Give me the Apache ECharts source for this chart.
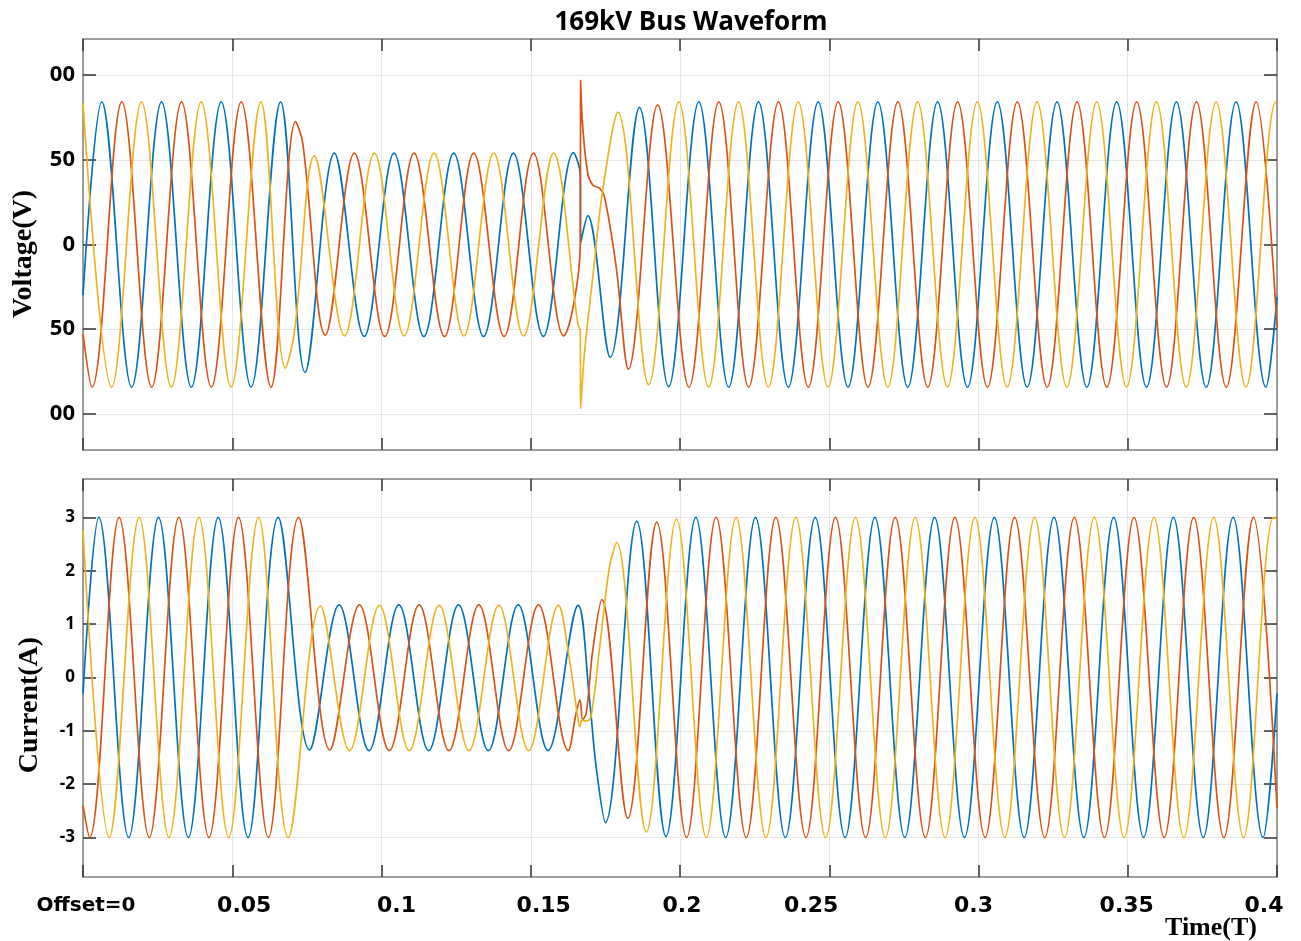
<!DOCTYPE html>
<html>
<head>
<meta charset="utf-8">
<script src="https://cdn.jsdelivr.net/npm/echarts@6/dist/echarts.min.js"></script>
<style>
html,body{margin:0;padding:0;background:#ffffff;}
#chart{width:1301px;height:941px;}
</style>
</head>
<body>
<div id="chart"></div>
<script>
// ---------- data ----------
const titleText = '169kV Bus Waveform';
const timeTicks = [0, 0.05, 0.1, 0.15, 0.2, 0.25, 0.3, 0.35, 0.4];
const timeTickLabels = ['Offset=0', '0.05', '0.1', '0.15', '0.2', '0.25', '0.3', '0.35', '0.4'];
const voltTicks = [-100, -50, 0, 50, 100];
const voltTickLabels = ['00', '50', '0', '50', '00'];
const currTicks = [-3, -2, -1, 0, 1, 2, 3];
const currTickLabels = ['-3', '-2', '-1', '0', '1', '2', '3'];
const voltAxisName = 'Voltage(V)';
const currAxisName = 'Current(A)';
const timeAxisName = 'Time(T)';

// Voltage, phase A (blue) : [time, value] at extrema / read points
const voltA = [[0,-30],[0.0063,84.3],[0.0163,-84.3],[0.0263,84.3],[0.0363,-84.3],[0.0463,84.3],[0.0563,-84.3],[0.0662,84.3],
  [0.0744,-75.5],[0.0842,54],[0.0942,-54.3],[0.1042,54],[0.1142,-54.3],[0.1242,54],[0.1342,-54.3],[0.1442,54],[0.1542,-54.3],
  [0.1643,54.3],[0.1666,41],[0.1667,1],[0.1691,17],[0.1766,-66.7],[0.1864,81],[0.1962,-84],
  [0.2063,84.3],[0.2163,-84.3],[0.2263,84.3],[0.2363,-84.3],[0.2463,84.3],[0.2563,-84.3],[0.2663,84.3],[0.2763,-84.3],
  [0.2863,84.3],[0.2963,-84.3],[0.3063,84.3],[0.3163,-84.3],[0.3263,84.3],[0.3363,-84.3],[0.3463,84.3],[0.3563,-84.3],
  [0.3663,84.3],[0.3763,-84.3],[0.3863,84.3],[0.3963,-84.3],[0.4,-31]];
// Voltage, phase B (orange)
const voltB = [[0,-53],[0.003,-84.3],[0.013,84.3],[0.023,-84.3],[0.033,84.3],[0.043,-84.3],[0.053,84.3],[0.063,-84.3],
  [0.0712,72.6],[0.0736,60],[0.0812,-53.5],[0.0909,54],[0.1011,-54.3],[0.1109,54],[0.1211,-54.3],[0.1309,54],[0.1411,-54.3],
  [0.1509,54],[0.161,-54],[0.1666,0],[0.1667,96.8],[0.1674,69.7],[0.1691,42],[0.1708,35],[0.173,33.3],[0.1747,28.3],
  [0.1786,-13],[0.1827,-73.6],[0.1925,82.5],[0.203,-84.3],[0.213,84.3],[0.223,-84.3],[0.233,84.3],[0.243,-84.3],[0.253,84.3],
  [0.263,-84.3],[0.273,84.3],[0.283,-84.3],[0.293,84.3],[0.303,-84.3],[0.313,84.3],[0.323,-84.3],[0.333,84.3],[0.343,-84.3],
  [0.353,84.3],[0.363,-84.3],[0.373,84.3],[0.383,-84.3],[0.393,84.3],[0.4,-49]];
// Voltage, phase C (yellow)
const voltC = [[0,83.5],[0.0096,-84.3],[0.0196,84.3],[0.0296,-84.3],[0.0396,84.3],[0.0496,-84.3],[0.0596,84.3],
  [0.0678,-73],[0.0708,-52],[0.0775,52.4],[0.0876,-54],[0.0976,54],[0.1076,-54],[0.1176,54],[0.1276,-54],[0.1376,54],
  [0.1476,-54],[0.1576,54],[0.1657,-46],[0.1666,-51.4],[0.1667,-97],[0.168,-64],[0.1708,-19],[0.1741,32],[0.1792,78.2],
  [0.1895,-82.8],[0.1996,84.3],[0.2096,-84.3],[0.2196,84.3],[0.2296,-84.3],[0.2396,84.3],[0.2496,-84.3],[0.2596,84.3],
  [0.2696,-84.3],[0.2796,84.3],[0.2896,-84.3],[0.2996,84.3],[0.3096,-84.3],[0.3196,84.3],[0.3296,-84.3],[0.3396,84.3],
  [0.3496,-84.3],[0.3596,84.3],[0.3696,-84.3],[0.3796,84.3],[0.3896,-84.3],[0.3996,84.3],[0.4,84]];

// Current, phase A (blue)
const currA = [[0,-0.3],[0.0053,3],[0.0153,-3],[0.0253,3],[0.0353,-3],[0.0453,3],[0.0553,-3],[0.0654,3],
  [0.0759,-1.36],[0.0858,1.36],[0.0958,-1.37],[0.1058,1.36],[0.1158,-1.37],[0.1258,1.36],[0.1358,-1.37],[0.1458,1.36],
  [0.1558,-1.37],[0.1659,1.35],[0.1697,-0.42],[0.1719,-1.67],[0.175,-2.72],[0.1855,2.93],[0.1953,-2.98],
  [0.2053,3],[0.2153,-3],[0.2253,3],[0.2353,-3],[0.2453,3],[0.2553,-3],[0.2653,3],[0.2753,-3],[0.2853,3],[0.2953,-3],
  [0.3053,3],[0.3153,-3],[0.3253,3],[0.3353,-3],[0.3453,3],[0.3553,-3],[0.3653,3],[0.3753,-3],[0.3853,3],[0.3953,-3],[0.4,-0.3]];
// Current, phase B (orange)
const currB = [[0,-2.4],[0.0022,-3],[0.0121,3],[0.0222,-3],[0.0321,3],[0.0422,-3],[0.0521,3],[0.0621,-3],[0.0722,3],
  [0.0827,-1.36],[0.0926,1.36],[0.1026,-1.37],[0.1126,1.36],[0.1226,-1.37],[0.1326,1.36],[0.1426,-1.37],[0.1526,1.36],
  [0.1626,-1.37],[0.1652,-0.67],[0.1665,-0.42],[0.1674,-0.79],[0.1686,-0.67],[0.1708,0.52],[0.1738,1.46],[0.1825,-2.64],
  [0.1922,2.91],[0.2022,-3],[0.2121,3],[0.2222,-3],[0.2321,3],[0.2422,-3],[0.2521,3],[0.2622,-3],[0.2721,3],[0.2822,-3],
  [0.2921,3],[0.3022,-3],[0.3121,3],[0.3222,-3],[0.3321,3],[0.3422,-3],[0.3521,3],[0.3622,-3],[0.3721,3],[0.3822,-3],
  [0.3921,3],[0.4,-2.45]];
// Current, phase C (yellow)
const currC = [[0,2.75],[0.0088,-3],[0.0188,3],[0.0288,-3],[0.0388,3],[0.0488,-3],[0.0588,3],[0.0688,-3],
  [0.0795,1.34],[0.0893,-1.37],[0.0993,1.35],[0.1093,-1.37],[0.1193,1.35],[0.1293,-1.37],[0.1393,1.35],[0.1493,-1.37],
  [0.1593,1.35],[0.163,0.33],[0.1652,-0.54],[0.1665,-0.92],[0.1672,-0.8],[0.1686,-0.82],[0.1702,-0.73],[0.173,0.52],
  [0.1764,2.08],[0.1788,2.53],[0.1887,-2.9],[0.1988,2.97],[0.2088,-3],[0.2188,3],[0.2288,-3],[0.2388,3],[0.2488,-3],
  [0.2588,3],[0.2688,-3],[0.2788,3],[0.2888,-3],[0.2988,3],[0.3088,-3],[0.3188,3],[0.3288,-3],[0.3388,3],[0.3488,-3],
  [0.3588,3],[0.3688,-3],[0.3788,3],[0.3888,-3],[0.3988,3],[0.4,2.97]];

// ---------- styling ----------
const COLORS = ['#0072BD', '#D95319', '#EEB420'];
const BOX = '#7f7f7f';
const TICK = '#333333';
const GRIDLINE = '#e6e6e6';
const SMOOTH = 0.36;
// horizontal nudge (px) of each time label relative to its tick, as placed in the reference
const xLabelNudge = [3, 12, 15, 13, 2, -18, -5, -1, -13];

function lookup(ticks) {
  return function (v) {
    for (let i = 0; i < ticks.length; i++) if (Math.abs(ticks[i] - v) < 1e-9) return i;
    return -1;
  };
}
const timeIndex = lookup(timeTicks);

const xRich = {};
xLabelNudge.forEach(function (d, i) {
  xRich['l' + i] = {
    fontFamily: 'DejaVu Sans', fontWeight: 'bold', fontSize: i === 0 ? 20 : 22, color: '#000', lineHeight: 24,
    padding: d >= 0 ? [0, 0, 0, 2 * d] : [0, -2 * d, 0, 0]
  };
});

function xAxisCfg(grid, pos, showLabels) {
  return {
    type: 'value', gridIndex: grid, position: pos, min: 0, max: 0.4,
    axisLine: { show: true, onZero: false, lineStyle: { color: BOX, width: 1.5 } },
    axisTick: { show: true, inside: true, length: 12, customValues: timeTicks, lineStyle: { color: TICK, width: 1.5 } },
    splitLine: { show: pos === 'bottom', lineStyle: { color: GRIDLINE, width: 1 } },
    axisLabel: {
      show: showLabels, customValues: timeTicks, margin: 17, hideOverlap: false,
      formatter: function (v) {
        const i = timeIndex(v);
        return i < 0 ? '' : '{l' + i + '|' + timeTickLabels[i] + '}';
      },
      rich: xRich
    }
  };
}

function yAxisCfg(grid, pos, min, max, ticks, labels, showLabels, fontSize) {
  const idx = lookup(ticks);
  return {
    type: 'value', gridIndex: grid, position: pos, min: min, max: max,
    axisLine: { show: true, onZero: false, lineStyle: { color: BOX, width: 1.5 } },
    axisTick: { show: true, inside: true, length: 13, customValues: ticks, lineStyle: { color: TICK, width: 1.5 } },
    splitLine: { show: pos === 'left', lineStyle: { color: GRIDLINE, width: 1 } },
    axisLabel: {
      show: showLabels, customValues: ticks, margin: 8,
      formatter: function (v) { const i = idx(v); return i < 0 ? '' : labels[i]; },
      fontFamily: 'Open Sans', fontWeight: 'bold', fontSize: fontSize, color: '#000'
    }
  };
}

function lineSeries(data, color, xi, yi) {
  return {
    type: 'line', data: data, xAxisIndex: xi, yAxisIndex: yi,
    showSymbol: false, symbol: 'none', smooth: SMOOTH, silent: true,
    lineStyle: { color: color, width: 1.7 }, z: 3
  };
}

const chart = echarts.init(document.getElementById('chart'), null, { renderer: 'canvas' });
const option = {
  animation: false,
  backgroundColor: '#ffffff',
  title: {
    text: titleText, left: 686, top: 5, textAlign: 'center',
    textStyle: { fontFamily: 'Open Sans', fontWeight: 'bold', fontSize: 26, color: '#000' }
  },
  grid: [
    { left: 83, top: 39, width: 1194, height: 411, containLabel: false, outerBoundsMode: 'none' },
    { left: 83, top: 479, width: 1194, height: 398, containLabel: false, outerBoundsMode: 'none' }
  ],
  xAxis: [
    xAxisCfg(0, 'bottom', false),
    xAxisCfg(0, 'top', false),
    xAxisCfg(1, 'bottom', true),
    xAxisCfg(1, 'top', false)
  ],
  yAxis: [
    yAxisCfg(0, 'left', -121.4, 121.4, voltTicks, voltTickLabels, true, 22),
    yAxisCfg(0, 'right', -121.4, 121.4, voltTicks, voltTickLabels, false, 22),
    yAxisCfg(1, 'left', -3.74, 3.72, currTicks, currTickLabels, true, 17),
    yAxisCfg(1, 'right', -3.74, 3.72, currTicks, currTickLabels, false, 17)
  ],
  graphic: [
    { type: 'text', x: 24, y: 254, rotation: Math.PI / 2,
      style: { text: voltAxisName, fontFamily: 'Liberation Serif', fontWeight: 'bold', fontSize: 28, fill: '#000', align: 'center', verticalAlign: 'middle' } },
    { type: 'text', x: 30, y: 705, rotation: Math.PI / 2,
      style: { text: currAxisName, fontFamily: 'Liberation Serif', fontWeight: 'bold', fontSize: 28, fill: '#000', align: 'center', verticalAlign: 'middle' } },
    { type: 'text', x: 1211, y: 928,
      style: { text: timeAxisName, fontFamily: 'Liberation Serif', fontWeight: 'bold', fontSize: 26, fill: '#000', align: 'center', verticalAlign: 'middle' } }
  ],
  series: [
    lineSeries(voltA, COLORS[0], 0, 0),
    lineSeries(voltB, COLORS[1], 0, 0),
    lineSeries(voltC, COLORS[2], 0, 0),
    lineSeries(currA, COLORS[0], 2, 2),
    lineSeries(currB, COLORS[1], 2, 2),
    lineSeries(currC, COLORS[2], 2, 2)
  ]
};
chart.setOption(option);
</script>
</body>
</html>
